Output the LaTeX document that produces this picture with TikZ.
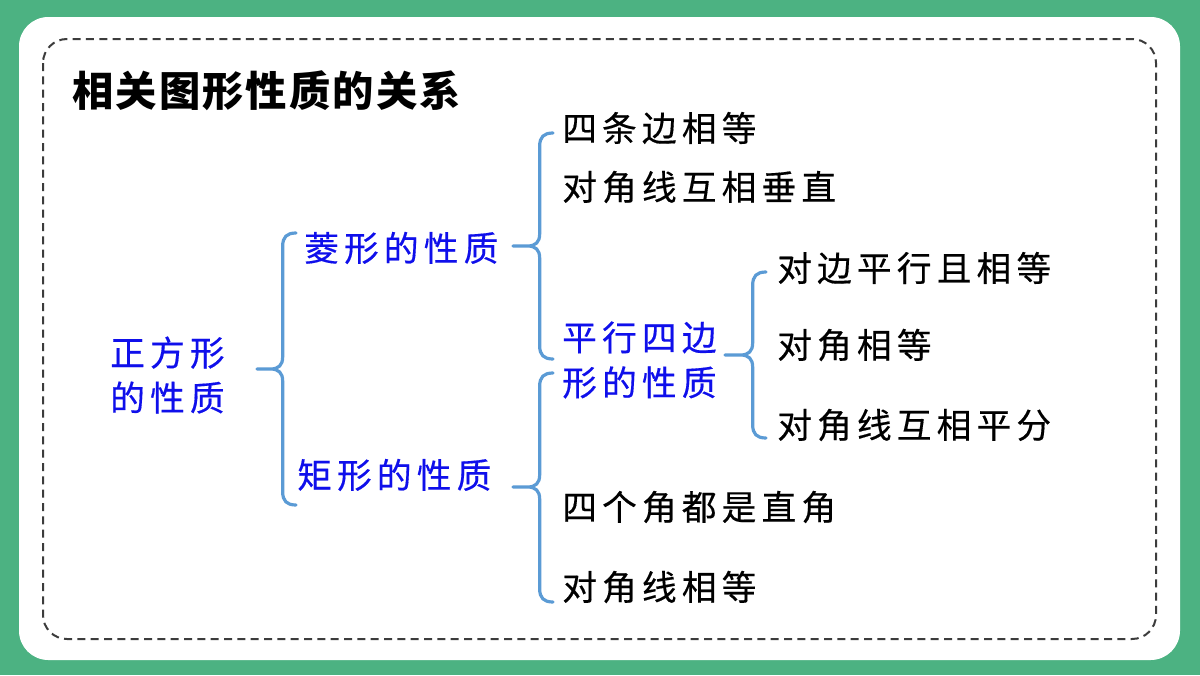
\documentclass[tikz,border=0pt]{standalone}
\usepackage{fontspec}
\usetikzlibrary{calc}
\newfontfamily\cjk[LetterSpace=15,FakeBold=0.4]{Noto Sans CJK SC}
\newfontfamily\cjktitle[LetterSpace=5]{Noto Sans CJK SC}
\definecolor{bggreen}{RGB}{76,178,130}
\definecolor{bracecol}{RGB}{91,155,213}
\definecolor{txtblue}{RGB}{15,15,235}
\definecolor{dashgray}{RGB}{60,60,60}
\tikzset{
  bracestyle/.style={draw=bracecol, line width=2.4pt, line cap=round, line join=round},
  cattext/.style={anchor=west, inner sep=0pt, text=txtblue, align=left, font={\cjk\fontsize{26}{33.75}\selectfont}},
  proptext/.style={anchor=west, inner sep=0pt, text=black, font={\cjk\fontsize{26}{33.75}\selectfont}},
  titletext/.style={anchor=west, inner sep=0pt, text=black, font={\cjktitle\bfseries\fontsize{31}{36}\selectfont}}
}
\newcommand\curlybrace[3]{%
  \draw[bracestyle] let \p1=(#1), \p2=(#2), \p3=(#3) in
  (\x2,\y2) .. controls (\x2-7pt,\y2) and (\x2-10pt,\y2-3pt) .. (\x2-10pt,\y2-10pt)
  -- (\x2-10pt,\y1+9pt) .. controls (\x2-10pt,\y1+3pt) and (\x2-13pt,\y1) .. (\x2-19pt,\y1) -- (\x1,\y1)
  (\x1,\y1) -- (\x2-19pt,\y1) .. controls (\x2-13pt,\y1) and (\x2-10pt,\y1-3pt) .. (\x2-10pt,\y1-9pt)
  -- (\x2-10pt,\y3+10pt) .. controls (\x2-10pt,\y3+3pt) and (\x2-7pt,\y3) .. (\x2,\y3);}
\begin{document}
\begin{tikzpicture}[x=0.75pt,y=-0.75pt]
\useasboundingbox (0,0) rectangle (1200,675);
\fill[bggreen] (0,0) rectangle (1200,675);
\fill[white, rounded corners=22pt] (19,17) rectangle (1180,660);
\draw[dashgray, line width=1.5pt, dash pattern=on 6pt off 4pt, rounded corners=18pt] (43,39) rectangle (1156,639);

\node[titletext] (title) at (72,91) {相关图形性质的关系};

\node[cattext] (square) at (110,375) {正方形\\的性质};
\node[cattext] (rhombus) at (304,248) {菱形的性质};
\node[cattext] (rect) at (297,475) {矩形的性质};
\node[cattext] (para) at (562,360) {平行四边\\形的性质};

\node[proptext] (p1) at (562,128) {四条边相等};
\node[proptext] (p2) at (562,187) {对角线互相垂直};
\node[proptext] (p3) at (777,268) {对边平行且相等};
\node[proptext] (p4) at (777,345) {对角相等};
\node[proptext] (p5) at (777,425) {对角线互相平分};
\node[proptext] (p6) at (562,507) {四个角都是直角};
\node[proptext] (p7) at (562,587) {对角线相等};

% brace anchor coordinates
\coordinate (b1tip) at (257,369);
\coordinate (b1top) at (296,233);
\coordinate (b1bot) at (296,505);
\coordinate (b2tip) at (513,246);
\coordinate (b2top) at (553,133);
\coordinate (b2bot) at (553,359);
\coordinate (b3tip) at (513,487);
\coordinate (b3top) at (553,373);
\coordinate (b3bot) at (553,602);
\coordinate (b4tip) at (725,355);
\coordinate (b4top) at (766,272);
\coordinate (b4bot) at (766,438);

\curlybrace{b1tip}{b1top}{b1bot}
\curlybrace{b2tip}{b2top}{b2bot}
\curlybrace{b3tip}{b3top}{b3bot}
\curlybrace{b4tip}{b4top}{b4bot}
\end{tikzpicture}
\end{document}
